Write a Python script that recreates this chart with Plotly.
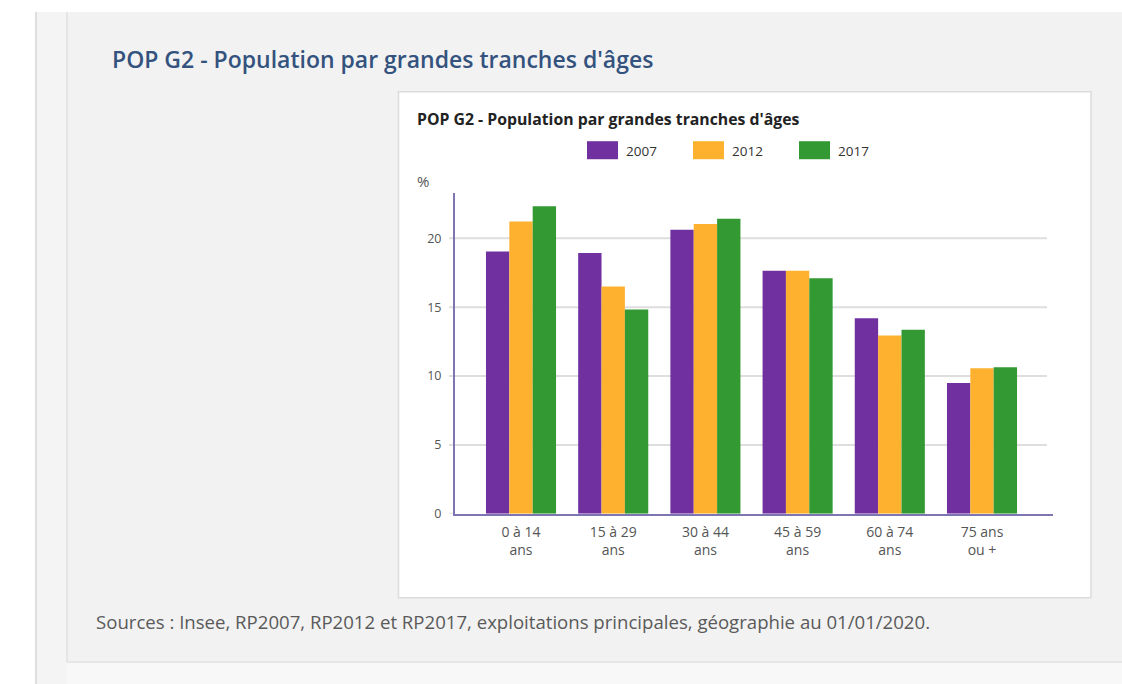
import plotly.graph_objects as go

W = 1122
REF_H = 684          # reference pixel grid
H = 693              # figure height (rendered view is rescaled to 684)

categories = ["0 à 14<br>ans", "15 à 29<br>ans", "30 à 44<br>ans", "45 à 59<br>ans", "60 à 74<br>ans", "75 ans<br>ou +"]
series_names = ["2007", "2012", "2017"]
values_2007 = [19.05, 18.93, 20.63, 17.65, 14.2, 9.5]
values_2012 = [21.22, 16.51, 21.04, 17.65, 12.95, 10.57]
values_2017 = [22.33, 14.84, 21.43, 17.11, 13.36, 10.64]
series_values = [values_2007, values_2012, values_2017]
series_colors = ["#7030A0", "#FDB12F", "#339933"]
y_ticks = [0, 5, 10, 15, 20]

FONT = "Open Sans"


def px(x):
    return x / W


def py(y):
    return 1 - y / REF_H


fig = go.Figure()
for name, vals, col in zip(series_names, series_values, series_colors):
    fig.add_trace(go.Bar(
        x=categories, y=vals, name=name,
        marker=dict(color=col, line=dict(width=0)),
        showlegend=False, hoverinfo="skip",
    ))

shapes = []
# page backgrounds
shapes.append(dict(type="rect", xref="paper", yref="paper", x0=px(36), x1=1, y0=-0.05, y1=py(12),
                   fillcolor="#f4f4f4", line=dict(width=0), layer="below"))
shapes.append(dict(type="line", xref="paper", yref="paper", x0=px(36), x1=px(36), y0=-0.05, y1=py(12),
                   line=dict(color="#d6d6d6", width=1.5), layer="below"))
shapes.append(dict(type="rect", xref="paper", yref="paper", x0=px(67), x1=1, y0=py(661), y1=py(12),
                   fillcolor="#f2f2f2", line=dict(width=0), layer="below"))
shapes.append(dict(type="line", xref="paper", yref="paper", x0=px(67), x1=px(67), y0=py(661), y1=py(12),
                   line=dict(color="#e0e0e0", width=1.5), layer="below"))
shapes.append(dict(type="line", xref="paper", yref="paper", x0=px(67), x1=1, y0=py(661), y1=py(661),
                   line=dict(color="#e6e6e6", width=2), layer="below"))
shapes.append(dict(type="rect", xref="paper", yref="paper", x0=px(67), x1=1, y0=-0.05, y1=py(662),
                   fillcolor="#f8f8f8", line=dict(width=0), layer="below"))
# chart box
shapes.append(dict(type="rect", xref="paper", yref="paper", x0=px(398.5), x1=px(1091), y0=py(597), y1=py(91.5),
                   fillcolor="#ffffff", line=dict(color="#dcdcdc", width=1.5), layer="below"))
# horizontal gridlines at the y ticks (with small left tick)
for t in y_ticks[1:]:
    shapes.append(dict(type="line", xref="paper", yref="y", x0=px(449), x1=px(1047), y0=t, y1=t,
                       line=dict(color="#dedede", width=2), layer="below"))
shapes.append(dict(type="line", xref="paper", yref="y", x0=px(449), x1=px(455), y0=0, y1=0,
                   line=dict(color="#dedede", width=2), layer="below"))

annotations = []
# legend built from series
legend_x = [587, 693, 799]
for name, col, lx in zip(series_names, series_colors, legend_x):
    shapes.append(dict(type="rect", xref="paper", yref="paper", x0=px(lx), x1=px(lx + 31), y0=py(159), y1=py(141),
                       fillcolor=col, line=dict(width=0)))
    annotations.append(dict(xref="paper", yref="paper", x=px(lx + 37), y=py(151), text=name, showarrow=False,
                            xanchor="left", yanchor="middle", font=dict(family=FONT, size=13.5, color="#333333")))

annotations.append(dict(xref="paper", yref="paper", x=px(110), y=py(59),
                        text="POP G2 - Population par grandes tranches d'âges", showarrow=False,
                        xanchor="left", yanchor="middle",
                        font=dict(family=FONT, size=23, color="#34527e", weight=600)))
annotations.append(dict(xref="paper", yref="paper", x=px(415), y=py(119),
                        text="<b>POP G2 - Population par grandes tranches d'âges</b>", showarrow=False,
                        xanchor="left", yanchor="middle",
                        font=dict(family=FONT, size=15.8, color="#222222")))
annotations.append(dict(xref="paper", yref="paper", x=px(415), y=py(181), text="%", showarrow=False,
                        xanchor="left", yanchor="middle",
                        font=dict(family=FONT, size=15, color="#555555")))
annotations.append(dict(xref="paper", yref="paper", x=px(94), y=py(621),
                        text="Sources : Insee, RP2007, RP2012 et RP2017, exploitations principales, géographie au 01/01/2020.",
                        showarrow=False, xanchor="left", yanchor="middle",
                        font=dict(family=FONT, size=18.6, color="#5a5a5a")))

fig.update_layout(
    width=W, height=H,
    margin=dict(l=0, r=0, t=0, b=0),
    paper_bgcolor="#ffffff", plot_bgcolor="rgba(0,0,0,0)",
    barmode="group", bargap=0.24, bargroupgap=0,
    shapes=shapes, annotations=annotations,
    showlegend=False,
    xaxis=dict(domain=[px(455), px(1053)], range=[-0.716, 5.77], showgrid=False,
               showline=True, linecolor="#7e75b3", linewidth=2, ticks="",
               ticklabelstandoff=4,
               tickfont=dict(family=FONT, size=14, color="#555555"), fixedrange=True),
    yaxis=dict(domain=[py(513), py(192.5)], range=[0, 23.31], tickvals=y_ticks,
               showgrid=False,
               showline=True, linecolor="#7e75b3", linewidth=2,
               ticks="", ticklabelstandoff=9,
               tickfont=dict(family=FONT, size=12.5, color="#555555"), zeroline=False, fixedrange=True),
)

fig.write_html("out.html")
